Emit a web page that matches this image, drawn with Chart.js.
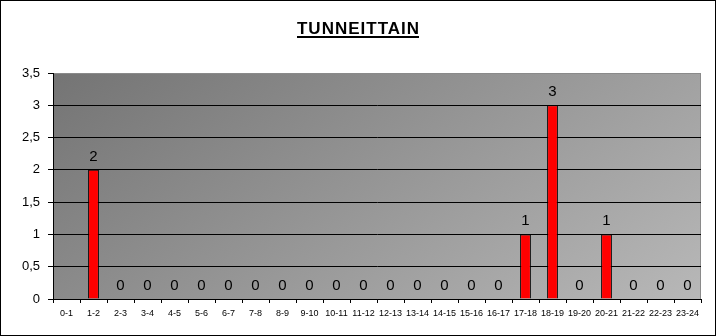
<!DOCTYPE html>
<html>
<head>
<meta charset="utf-8">
<script src="https://cdn.jsdelivr.net/npm/chart.js@4"></script>
<style>
  html, body { margin: 0; padding: 0; background: #fff; }
  #wrap { width: 716px; height: 336px; position: relative; }
</style>
</head>
<body>
<div id="wrap"><canvas id="hourChart"></canvas></div>
<script>
var hours = ['0-1', '1-2', '2-3', '3-4', '4-5', '5-6', '6-7', '7-8', '8-9', '9-10', '10-11', '11-12',
    '12-13', '13-14', '14-15', '15-16', '16-17', '17-18', '18-19', '19-20', '20-21', '21-22', '22-23', '23-24'];
var counts = [null, 2, 0, 0, 0, 0, 0, 0, 0, 0, 0, 0, 0, 0, 0, 0, 0, 1, 3, 0, 1, 0, 0, 0];
var chartTitle = 'TUNNEITTAIN';
var yMax = 3.5;
var yStep = 0.5;

// background of plot area, outer frame and underlined title
var frame = {
    id: 'frame',
    beforeDraw: function (chart) {
        var ctx = chart.ctx, a = chart.chartArea;
        ctx.save();
        // diagonal shading, a bit steeper than the corner-to-corner line
        var dx = 0.07, dy = 0.1;
        var t = 72 / (dx * dx + dy * dy);
        var g = ctx.createLinearGradient(a.left, a.top, a.left + dx * t, a.top + dy * t);
        g.addColorStop(0, 'rgb(116,116,116)');
        g.addColorStop(1, 'rgb(188,188,188)');
        ctx.fillStyle = g;
        ctx.fillRect(a.left, a.top, a.right - a.left, a.bottom - a.top);
        ctx.strokeStyle = '#8a8a8a';
        ctx.lineWidth = 1;
        ctx.strokeRect(a.left + 0.5, a.top + 0.5, a.right - a.left - 1, a.bottom - a.top);
        ctx.restore();
    },
    afterDraw: function (chart) {
        var ctx = chart.ctx;
        ctx.save();
        ctx.strokeStyle = '#000';
        ctx.lineWidth = 1;
        ctx.strokeRect(0.5, 0.5, chart.width - 1, chart.height - 1);
        ctx.font = 'bold 17px Arial, "Liberation Sans", sans-serif';
        ctx.letterSpacing = '1px';
        ctx.fillStyle = '#000';
        ctx.textAlign = 'left';
        ctx.textBaseline = 'alphabetic';
        var w = ctx.measureText(chartTitle).width - 1;
        var x = 358 - w / 2;
        ctx.fillText(chartTitle, x, 34);
        ctx.fillRect(Math.round(x), 36, Math.round(w), 2);
        ctx.restore();
    }
};

var valueLabels = {
    id: 'valueLabels',
    afterDatasetsDraw: function (chart) {
        var ctx = chart.ctx;
        var meta = chart.getDatasetMeta(0);
        ctx.save();
        ctx.font = '15px Arial, "Liberation Sans", sans-serif';
        ctx.fillStyle = '#000';
        ctx.textAlign = 'center';
        ctx.textBaseline = 'alphabetic';
        meta.data.forEach(function (bar, i) {
            if (counts[i] === null) return;
            ctx.fillText(String(counts[i]), bar.x, bar.y - 9);
        });
        ctx.restore();
    }
};

var chart = new Chart(document.getElementById('hourChart'), {
    type: 'bar',
    data: {
        labels: hours,
        datasets: [{
            data: counts,
            backgroundColor: '#ff0000',
            borderColor: '#000000',
            borderWidth: 1,
            categoryPercentage: 1,
            barPercentage: 0.4
        }]
    },
    options: {
        responsive: true,
        maintainAspectRatio: false,
        animation: false,
        layout: { padding: { top: 73, right: 15, left: 0, bottom: 0 } },
        plugins: {
            legend: { display: false },
            tooltip: { enabled: false },
            title: { display: false }
        },
        scales: {
            x: {
                afterFit: function (s) { s.height = 37; },
                grid: { offset: true, drawOnChartArea: false, color: '#000', tickLength: 4 },
                border: { color: '#000' },
                ticks: {
                    color: '#000',
                    font: { family: 'Arial, "Liberation Sans", sans-serif', size: 9 },
                    maxRotation: 0,
                    autoSkip: false,
                    padding: 5
                }
            },
            y: {
                min: 0,
                max: yMax,
                afterFit: function (s) { s.width = 53; },
                grid: {
                    color: function (c) { return c.tick && c.tick.value >= yMax ? 'rgba(0,0,0,0)' : '#000'; },
                    tickColor: '#000',
                    tickLength: 5
                },
                border: { color: '#000' },
                ticks: {
                    stepSize: yStep,
                    color: '#000',
                    padding: 8,
                    font: { family: 'Arial, "Liberation Sans", sans-serif', size: 13 },
                    callback: function (v) { return String(v).replace('.', ','); }
                }
            }
        }
    },
    plugins: [frame, valueLabels]
});
</script>
</body>
</html>
